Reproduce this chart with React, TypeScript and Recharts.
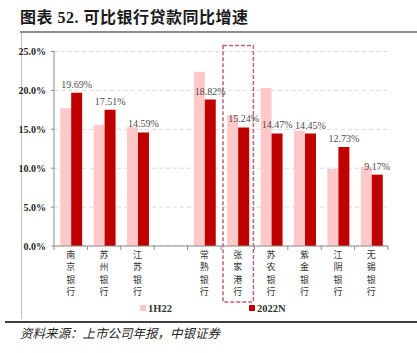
import { BarChart, Bar, XAxis, YAxis, CartesianGrid, Legend, LabelList, ReferenceArea } from 'recharts';

const banks = ['南京银行', '苏州银行', '江苏银行', ' ', '常熟银行', '张家港行', '苏农银行', '紫金银行', '江阴银行', '无锡银行'];
const h1Growth = [17.7, 15.6, 15.3, null, 22.4, 16.8, 20.3, 14.8, 9.9, 10.2];
const fyGrowth = [19.69, 17.51, 14.59, null, 18.82, 15.24, 14.47, 14.45, 12.73, 9.17];
const yTicks = [0, 5, 10, 15, 20, 25];
const seriesNames = ['1H22', '2022N'];

const data = banks.map((name, i) => ({ name, h1: h1Growth[i], fy: fyGrowth[i] }));

const FONT = '"Liberation Serif", "Noto Sans CJK SC", serif';
const PINK = '#FFC9C9';
const RED = '#C00000';

const BankTick = (props: any) => {
  const { x, y, payload, index } = props;
  const half = payload.offset || 0;
  const chars = String(payload.value).trim().split('');
  return (
    <g>
      <line x1={x - half} x2={x - half} y1={y - 4} y2={y} stroke="#8c8c8c" />
      {index === banks.length - 1 && (
        <line x1={x + half} x2={x + half} y1={y - 4} y2={y} stroke="#8c8c8c" />
      )}
      {chars.map((c, i) => (
        <text key={i} x={x} y={y + 7.5 + i * 12.5} textAnchor="middle" fontSize={9}
          fontFamily={FONT} fill="#333">{c}</text>
      ))}
    </g>
  );
};

const LegendBox = () => (
  <div style={{ height: 20, display: 'flex', alignItems: 'center', paddingLeft: 140, fontFamily: FONT, fontSize: 10.5, fontWeight: 'bold', color: '#333' }}>
    <span style={{ display: 'flex', alignItems: 'center', marginRight: 77 }}>
      <span style={{ width: 6, height: 6, background: PINK, marginRight: 2 }} />{seriesNames[0]}
    </span>
    <span style={{ display: 'flex', alignItems: 'center' }}>
      <span style={{ width: 6, height: 6, background: RED, marginRight: 2 }} />{seriesNames[1]}
    </span>
  </div>
);

const DashedBox = (props: any) => (
  <rect x={props.x + 2} y={props.y - 6} width={props.width - 3} height={props.height + 62}
    fill="none" stroke="#C0607F" strokeWidth={1.5} strokeDasharray="4 2" />
);

export default function App() {
  return (
    <div style={{ position: 'absolute', left: 0, top: 0, width: 417, height: 353, background: '#fff', overflow: 'hidden' }}>
      <div style={{ position: 'absolute', left: 20, top: 4, fontFamily: FONT, fontWeight: 'bold', fontSize: 16, letterSpacing: 0.5, color: '#1a1a1a', whiteSpace: 'nowrap' }}>
        图表 52. 可比银行贷款同比增速
      </div>
      <div style={{ position: 'absolute', left: 20, top: 31, width: 397, height: 2, background: '#8c8c8c' }} />
      <div style={{ position: 'absolute', left: 21, top: 33, width: 1, height: 286, background: '#c0c0c0' }} />
      <div style={{ position: 'absolute', left: 0, top: 0 }}>
        <BarChart width={417} height={318} data={data} barCategoryGap="18.5%" barGap={0}
          margin={{ top: 51.5, right: 29, bottom: 0, left: 0 }}>
          <CartesianGrid vertical={false} stroke="#D9D9D9" strokeDasharray="4 3" />
          <XAxis dataKey="name" interval={0} height={52} tickLine={false} tickSize={4} tickMargin={0}
            axisLine={{ stroke: '#8c8c8c' }} tick={<BankTick />} />
          <YAxis width={54} domain={[0, 25]} ticks={yTicks} tickSize={3} tickMargin={5}
            tickFormatter={(v: number) => v.toFixed(1) + '%'} axisLine={{ stroke: '#8c8c8c' }}
            tickLine={{ stroke: '#8c8c8c' }}
            tick={{ fontSize: 10, fontFamily: FONT, fill: '#262626', fontWeight: 'bold' }} />
          <ReferenceArea x1="张家港行" x2="张家港行" ifOverflow="visible" shape={<DashedBox />} />
          <Bar dataKey="h1" name={seriesNames[0]} fill={PINK} isAnimationActive={false} />
          <Bar dataKey="fy" name={seriesNames[1]} fill={RED} isAnimationActive={false}>
            <LabelList dataKey="fy" position="top" offset={5} fontSize={10} fontFamily={FONT} fill="#4d4d4d"
              formatter={(v: any) => (v == null ? '' : Number(v).toFixed(2) + '%')} />
          </Bar>
          <Legend verticalAlign="bottom" content={<LegendBox />} />
        </BarChart>
      </div>
      <div style={{ position: 'absolute', left: 5, top: 321, width: 412, height: 1.5, background: '#404040' }} />
      <div style={{ position: 'absolute', left: 20, top: 323, fontFamily: FONT, fontStyle: 'italic', fontSize: 12.5, color: '#262626', whiteSpace: 'nowrap' }}>
        资料来源：上市公司年报，中银证券
      </div>
    </div>
  );
}
